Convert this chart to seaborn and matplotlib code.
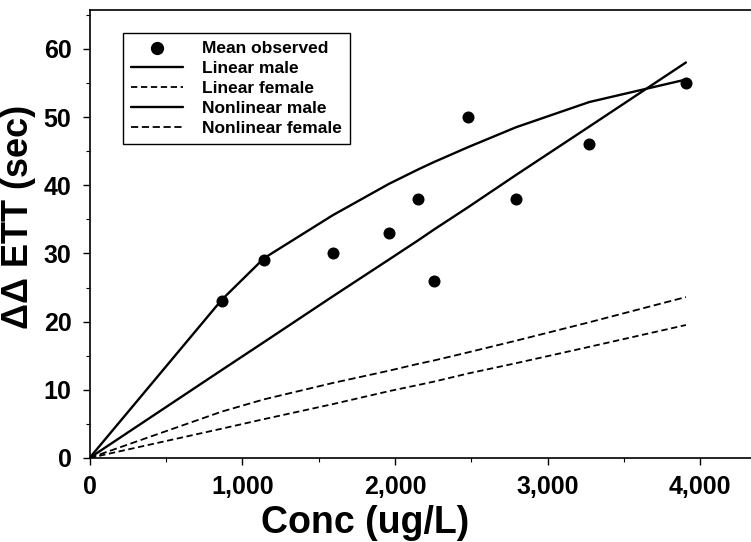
import matplotlib
matplotlib.use("Agg")
import matplotlib.pyplot as plt
from matplotlib.ticker import MultipleLocator, FuncFormatter
import seaborn as sns
import pandas as pd

# Observed mean response at each concentration
conc_obs = [866, 1143, 1593, 1961, 2151, 2256, 2481, 2793, 3273, 3906]
ett_obs = [23, 29, 30, 33, 38, 26, 50, 38, 46, 55]

# Model predictions evaluated at the observed concentrations (plus origin)
conc_pred = [0, 866, 1143, 1593, 1961, 2151, 2256, 2481, 2793, 3273, 3906]
linear_male = [0, 12.9, 17.0, 23.7, 29.1, 31.9, 33.5, 36.8, 41.5, 48.6, 58.0]
linear_female = [0, 4.3, 5.7, 7.9, 9.8, 10.7, 11.2, 12.4, 13.9, 16.3, 19.5]
nonlinear_male = [0, 23.2, 29.3, 35.6, 40.2, 42.3, 43.4, 45.6, 48.5, 52.2, 55.5]
nonlinear_female = [0, 6.8, 8.6, 11.0, 12.8, 13.8, 14.3, 15.5, 17.2, 19.9, 23.6]

x_ticks = [0, 1000, 2000, 3000, 4000]
y_ticks = [0, 10, 20, 30, 40, 50, 60]

sns.set_style("ticks")
plt.rcParams["font.family"] = ["Liberation Sans", "DejaVu Sans"]
plt.rcParams["font.weight"] = "bold"
plt.rcParams["text.color"] = "black"
plt.rcParams["axes.labelcolor"] = "black"
plt.rcParams["xtick.color"] = "black"
plt.rcParams["ytick.color"] = "black"

fig = plt.figure(figsize=(7.51, 5.42), dpi=100)
ax = fig.add_axes([0.1192, 0.155, 0.8946, 0.8266])

pred = pd.DataFrame({"conc": conc_pred, "lm": linear_male, "lf": linear_female,
                     "nm": nonlinear_male, "nf": nonlinear_female})
obs = pd.DataFrame({"conc": conc_obs, "ett": ett_obs})

sns.scatterplot(data=obs, x="conc", y="ett", ax=ax, color="black", s=75,
                edgecolor="black", linewidth=0, label="Mean observed", zorder=3)
sns.lineplot(data=pred, x="conc", y="lm", ax=ax, color="black", lw=1.7,
             label="Linear male")
sns.lineplot(data=pred, x="conc", y="lf", ax=ax, color="black", lw=1.3,
             label="Linear female", linestyle=(0, (3.5, 2)))
sns.lineplot(data=pred, x="conc", y="nm", ax=ax, color="black", lw=1.7,
             label="Nonlinear male")
sns.lineplot(data=pred, x="conc", y="nf", ax=ax, color="black", lw=1.3,
             label="Nonlinear female", linestyle=(0, (4, 2)))

ax.set_xlim(0, 4400)
ax.set_ylim(0, 65.7)
ax.set_xticks(x_ticks)
ax.set_yticks(y_ticks)
ax.xaxis.set_minor_locator(MultipleLocator(500))
ax.yaxis.set_minor_locator(MultipleLocator(5))
ax.xaxis.set_major_formatter(FuncFormatter(lambda v, p: f"{int(v):,}"))
ax.tick_params(axis="both", which="major", direction="out", length=5,
               width=1, labelsize=18, colors="black")
ax.tick_params(axis="y", which="major", pad=8)
ax.tick_params(axis="x", which="major", pad=7)
ax.tick_params(axis="both", which="minor", direction="out", length=3, width=0.8)
for lab in ax.get_xticklabels() + ax.get_yticklabels():
    lab.set_fontweight("bold")

for sp in ax.spines.values():
    sp.set_linewidth(1.2)
    sp.set_color("black")

ax.set_xlabel("Conc (ug/L)", fontsize=27, fontweight="bold")
ax.set_ylabel("ΔΔ ETT (sec)", fontsize=26, fontweight="bold")
ax.xaxis.set_label_coords(0.41, -0.105)
ax.yaxis.set_label_coords(-0.079, 0.538)

leg = ax.legend(loc="upper left", bbox_to_anchor=(0.05, 0.949), borderaxespad=0,
                frameon=True, fancybox=False, edgecolor="black",
                prop={"weight": "bold", "size": 12.5}, handlelength=3.0,
                handletextpad=1.1, labelspacing=0.28, borderpad=0.45,
                markerscale=1.1)
leg.get_frame().set_linewidth(1.0)
leg.get_frame().set_alpha(1)

fig.savefig("out.png", dpi=100)
